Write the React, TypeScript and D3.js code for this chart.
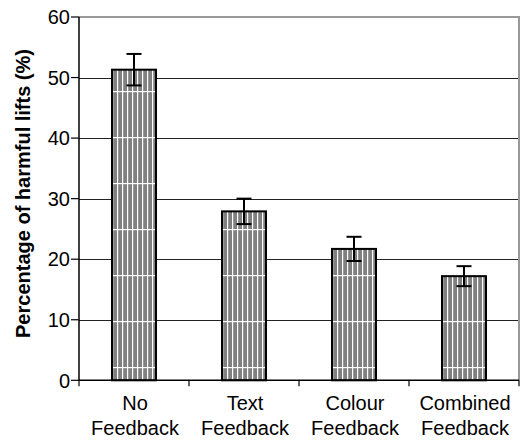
import React from "react";
import * as d3 from "d3";

const categories: string[][] = [
  ["No", "Feedback"],
  ["Text", "Feedback"],
  ["Colour", "Feedback"],
  ["Combined", "Feedback"],
];
const values: number[] = [51.3, 27.9, 21.7, 17.2];
const errors: number[] = [2.6, 2.1, 2.0, 1.65];
const yTicks: number[] = [0, 10, 20, 30, 40, 50, 60];
const yLabel = "Percentage of harmful lifts (%)";

const W = 520;
const H = 440;
const left = 79;
const right = 519;
const top = 17;
const bottom = 380.3;

export default function App() {
  const x = d3
    .scaleBand<number>()
    .domain(values.map((_, i) => i))
    .range([left, right])
    .paddingInner(0.6)
    .paddingOuter(0.3);
  const y = d3.scaleLinear().domain([0, 60]).range([bottom, top]);
  const step = x.step();
  const font = "'Liberation Sans', Arial, Helvetica, sans-serif";
  const bw = x.bandwidth();

  return (
    <svg
      width={W}
      height={H}
      style={{ position: "absolute", left: 0, top: 0, background: "#fff" }}
      fontFamily={font}
    >
      <defs>
        <pattern
          id="barPat"
          patternUnits="userSpaceOnUse"
          x={2}
          y={367 % 46}
          width={5}
          height={46}
        >
          <rect x={0} y={0} width={5} height={46} fill="#808080" />
          <rect x={0} y={0} width={1.2} height={46} fill="#ffffff" />
          <rect x={0} y={0} width={5} height={1.2} fill="#ffffff" />
        </pattern>
      </defs>
      <rect x={0} y={0} width={W} height={H} fill="#fff" />
      {/* grid lines */}
      {yTicks
        .filter((t) => t > 0 && t < 60)
        .map((t) => (
          <line
            key={"g" + t}
            x1={left}
            x2={right}
            y1={Math.round(y(t)) + 0.5}
            y2={Math.round(y(t)) + 0.5}
            stroke="#222"
            strokeWidth={1}
          />
        ))}
      {/* top and right border */}
      <line x1={left} x2={right} y1={y(60)} y2={y(60)} stroke="#999" strokeWidth={2} />
      <line x1={right} x2={right} y1={y(60) - 1} y2={bottom} stroke="#999" strokeWidth={2} />
      {/* bars */}
      {values.map((v, i) => (
        <rect
          key={"b" + i}
          x={x(i)!}
          y={y(v)}
          width={bw}
          height={bottom - y(v)}
          fill="url(#barPat)"
          stroke="#000"
          strokeWidth={2}
        />
      ))}
      {/* error bars */}
      {values.map((v, i) => {
        const cx = x(i)! + bw / 2;
        const hi = y(v + errors[i]);
        const lo = y(v - errors[i]);
        return (
          <g key={"e" + i} stroke="#000" strokeWidth={2}>
            <line x1={cx} x2={cx} y1={hi} y2={lo} />
            <line x1={cx - 7.5} x2={cx + 7.5} y1={hi} y2={hi} />
            <line x1={cx - 7.5} x2={cx + 7.5} y1={lo} y2={lo} />
          </g>
        );
      })}
      {/* axes */}
      <line x1={left} x2={left} y1={top} y2={bottom} stroke="#000" strokeWidth={1.5} />
      <line x1={left} x2={right} y1={bottom} y2={bottom} stroke="#000" strokeWidth={1.5} />
      {yTicks.map((t) => (
        <g key={"yt" + t}>
          <line x1={left - 8} x2={left} y1={y(t)} y2={y(t)} stroke="#000" strokeWidth={1.2} />
          <text x={70} y={y(t)} dy="0.36em" textAnchor="end" fontSize={20} fill="#000">
            {t}
          </text>
        </g>
      ))}
      {d3.range(values.length + 1).map((i) => (
        <line
          key={"xt" + i}
          x1={left + i * step}
          x2={left + i * step}
          y1={bottom}
          y2={bottom + 6}
          stroke="#000"
          strokeWidth={1.2}
        />
      ))}
      {categories.map((lines, i) => (
        <text
          key={"xl" + i}
          x={x(i)! + bw / 2 + 1}
          y={410}
          textAnchor="middle"
          fontSize={20}
          fill="#000"
        >
          {lines.map((l, j) => (
            <tspan key={j} x={x(i)! + bw / 2 + 1} dy={j === 0 ? 0 : 25}>
              {l}
            </tspan>
          ))}
        </text>
      ))}
      <text
        transform={`translate(30,193.5) rotate(-90)`}
        textAnchor="middle"
        fontSize={20}
        fontWeight="bold"
        fill="#000"
      >
        {yLabel}
      </text>
    </svg>
  );
}
